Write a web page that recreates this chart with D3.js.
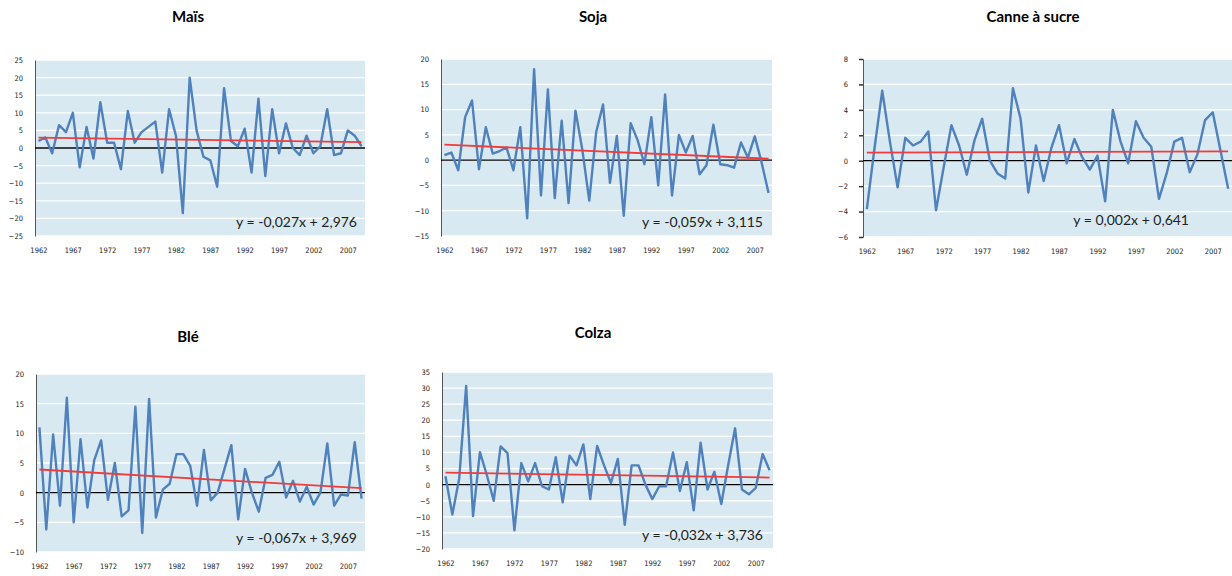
<!DOCTYPE html>
<html>
  <head>
    <meta charset="utf-8">
    <script src="https://d3js.org/d3.v7.min.js" charset="utf-8"></script>
    <style>
    body {
      margin: 0;
      background-color: #fff;
    }
    .title {
      font-family: Lato, "Open Sans", sans-serif;
      font-weight: bold;
      font-size: 15px;
      fill: #000;
    }
    .axis text {
      font-family: "DejaVu Sans Condensed", "Liberation Sans Narrow", sans-serif;
      font-size: 7.5px;
      fill: #222;
    }
    .eq {
      font-family: Lato, "Open Sans", sans-serif;
      font-size: 14px;
      fill: #222;
    }
    </style>
    <title>Rendements</title>
  </head>
  <body>
    <div class="charts"></div>
    <script>

      // categories
      var years = [1962, 1963, 1964, 1965, 1966, 1967, 1968, 1969, 1970, 1971, 1972, 1973,
                   1974, 1975, 1976, 1977, 1978, 1979, 1980, 1981, 1982, 1983, 1984, 1985,
                   1986, 1987, 1988, 1989, 1990, 1991, 1992, 1993, 1994, 1995, 1996, 1997,
                   1998, 1999, 2000, 2001, 2002, 2003, 2004, 2005, 2006, 2007, 2008, 2009];
      var yearLabels = [1962, 1967, 1972, 1977, 1982, 1987, 1992, 1997, 2002, 2007];

      // series values
      var mais = [2, 3, -1.5, 6.5, 4.5, 10, -5.5, 6, -3, 13, 1.5, 1.5, -6, 10.5, 1.5, 4.5,
                  6, 7.5, -7, 11, 3.5, -18.5, 20, 5, -2.5, -3.5, -11, 17, 2, 0.5, 5.5, -7,
                  14, -8, 11, -1.5, 7, 0, -2, 3.5, -1.5, 0.5, 11, -2, -1.5, 5, 3.5, 0.5];
      var soja = [1, 1.5, -2, 8.5, 11.8, -1.8, 6.5, 1.3, 1.8, 2.5, -2, 6.5, -11.5, 18, -7, 14,
                  -7.5, 7.8, -8.5, 9.8, 2, -8, 5.5, 11, -4.5, 4.8, -11, 7.3, 4, -0.8, 8.5, -5,
                  13, -7, 5, 1.5, 4.8, -2.8, -1, 7, -0.8, -1, -1.5, 3.5, 0.5, 4.7, -0.5, -6.5];
      var canne = [-3.8, 1, 5.5, 1.5, -2.1, 1.8, 1.2, 1.5, 2.3, -3.9, -0.5, 2.8, 1.2, -1.1, 1.6, 3.3,
                   0, -1, -1.4, 5.7, 3.3, -2.5, 1.2, -1.6, 1, 2.8, -0.2, 1.7, 0.3, -0.7, 0.4, -3.2,
                   4, 1.5, -0.2, 3.1, 1.8, 1.1, -3, -1, 1.5, 1.8, -0.9, 0.5, 3.2, 3.8, 0.8, -2.2];
      var ble = [11, -6.2, 9.8, -2.2, 16, -5, 9, -2.5, 5.5, 8.8, -1.2, 5, -4, -3, 14.5, -6.8,
                 15.8, -4.2, 0.5, 1.5, 6.5, 6.5, 4.5, -2.2, 7.2, -1.3, 0, 4, 8, -4.5, 4, 0,
                 -3.2, 2.5, 3, 5.2, -0.8, 2, -1.5, 1, -2, 0, 8.3, -2.2, -0.3, -0.5, 8.5, -1];
      var colza = [2.6, -9.3, 2, 30.7, -9.8, 10.1, 3, -5, 11.9, 9.8, -14.2, 6.7, 1, 6.7, -0.5, -1.5,
                   8.5, -5.5, 9, 6, 12.5, -4.5, 12, 6, 0.5, 8, -12.5, 6, 6, 0, -4.5, -0.5,
                   -0.5, 10, -2, 7, -8, 13, -1.5, 4, -6, 6, 17.5, -1.5, -3, -1, 9.5, 4.5];

      var titles = ["Maïs", "Soja", "Canne à sucre", "Blé", "Colza"];
      var seriesList = [mais, soja, canne, ble, colza];

      // trend lines y = a*x + b, x = 1..n
      var slopes = [-0.027, -0.059, 0.002, -0.067, -0.032];
      var intercepts = [2.976, 3.115, 0.641, 3.969, 3.736];
      var eqLabels = ["y = -0,027x + 2,976", "y = -0,059x + 3,115", "y = 0,002x + 0,641",
                      "y = -0,067x + 3,969", "y = -0,032x + 3,736"];

      // y tick labels
      var yTicksMais = [-25, -20, -15, -10, -5, 0, 5, 10, 15, 20, 25];
      var yTicksSoja = [-15, -10, -5, 0, 5, 10, 15, 20];
      var yTicksCanne = [-6, -4, -2, 0, 2, 4, 6, 8];
      var yTicksBle = [-10, -5, 0, 5, 10, 15, 20];
      var yTicksColza = [-20, -15, -10, -5, 0, 5, 10, 15, 20, 25, 30, 35];
      var yTicksList = [yTicksMais, yTicksSoja, yTicksCanne, yTicksBle, yTicksColza];

      // layout of each small chart (plot area in page pixels)
      var layout = [
        {left: 35,  top: 60,  width: 330, height: 176, titleX: 188,  titleY: 22,  ticks: 0, eqX: 357},
        {left: 441, top: 59,  width: 331, height: 177, titleX: 593,  titleY: 22,  ticks: 0, eqX: 763},
        {left: 863, top: 59,  width: 369, height: 178, titleX: 1033, titleY: 22,  ticks: 4, eqX: 1189},
        {left: 36,  top: 374, width: 329, height: 178, titleX: 188,  titleY: 342, ticks: 0, eqX: 357},
        {left: 442, top: 372, width: 331, height: 177, titleX: 593,  titleY: 338, ticks: 0, eqX: 763}
      ];

      var svg = d3.select('.charts').append('svg')
          .attr('width', 1232)
          .attr('height', 576);

      seriesList.forEach(function(values, k) {
        var L = layout[k];
        var ticks = yTicksList[k];

        var x = d3.scalePoint()
            .domain(years)
            .range([L.left, L.left + L.width])
            .padding(0.5);

        var y = d3.scaleLinear()
            .domain([d3.min(ticks), d3.max(ticks)])
            .range([L.top + L.height, L.top]);

        var g = svg.append('g');

        g.append('text')
            .attr('class', 'title')
            .attr('x', L.titleX)
            .attr('y', L.titleY)
            .attr('text-anchor', 'middle')
            .text(titles[k]);

        g.append('rect')
            .attr('x', L.left)
            .attr('y', L.top)
            .attr('width', L.width)
            .attr('height', L.height)
            .attr('fill', '#d9e9f1');

        // white grid lines
        g.selectAll('line.grid')
          .data(ticks)
          .enter().append('line')
            .attr('class', 'grid')
            .attr('x1', L.left)
            .attr('x2', L.left + L.width)
            .attr('y1', function(d) { return y(d); })
            .attr('y2', function(d) { return y(d); })
            .attr('stroke', '#fff')
            .attr('stroke-width', 1.3);

        var yAxis = g.append('g')
            .attr('class', 'axis')
            .attr('transform', 'translate(' + L.left + ',0)')
            .call(d3.axisLeft(y).tickValues(ticks).tickSize(L.ticks).tickSizeOuter(L.ticks)
                  .tickPadding(L.ticks ? 11 : 12));
        yAxis.select('.domain').attr('stroke', '#555').attr('stroke-width', 1);
        yAxis.selectAll('.tick line').attr('stroke', '#333').attr('stroke-width', 1.5);

        var xAxis = g.append('g')
            .attr('class', 'axis')
            .attr('transform', 'translate(0,' + (L.top + L.height) + ')')
            .call(d3.axisBottom(x).tickValues(yearLabels).tickSize(0).tickPadding(12));
        xAxis.select('.domain').remove();

        // zero line
        g.append('line')
            .attr('x1', L.left)
            .attr('x2', L.left + L.width)
            .attr('y1', y(0))
            .attr('y2', y(0))
            .attr('stroke', '#000')
            .attr('stroke-width', 1.3);

        var line = d3.line()
            .x(function(d, i) { return x(years[i]); })
            .y(function(d) { return y(d); });

        g.append('path')
            .datum(values)
            .attr('d', line)
            .attr('fill', 'none')
            .attr('stroke', '#4f81bd')
            .attr('stroke-width', 2.4)
            .attr('stroke-linejoin', 'round');

        // linear trend from the fitted equation
        var n = values.length;
        g.append('line')
            .attr('x1', x(years[0]))
            .attr('x2', x(years[n - 1]))
            .attr('y1', y(slopes[k] * 1 + intercepts[k]))
            .attr('y2', y(slopes[k] * n + intercepts[k]))
            .attr('stroke', '#f03c3c')
            .attr('stroke-width', 1.8);

        g.append('text')
            .attr('class', 'eq')
            .attr('x', L.eqX)
            .attr('y', L.top + L.height - (k === 2 ? 12 : 9))
            .attr('text-anchor', 'end')
            .text(eqLabels[k]);
      });

    </script>
  </body>
</html>
